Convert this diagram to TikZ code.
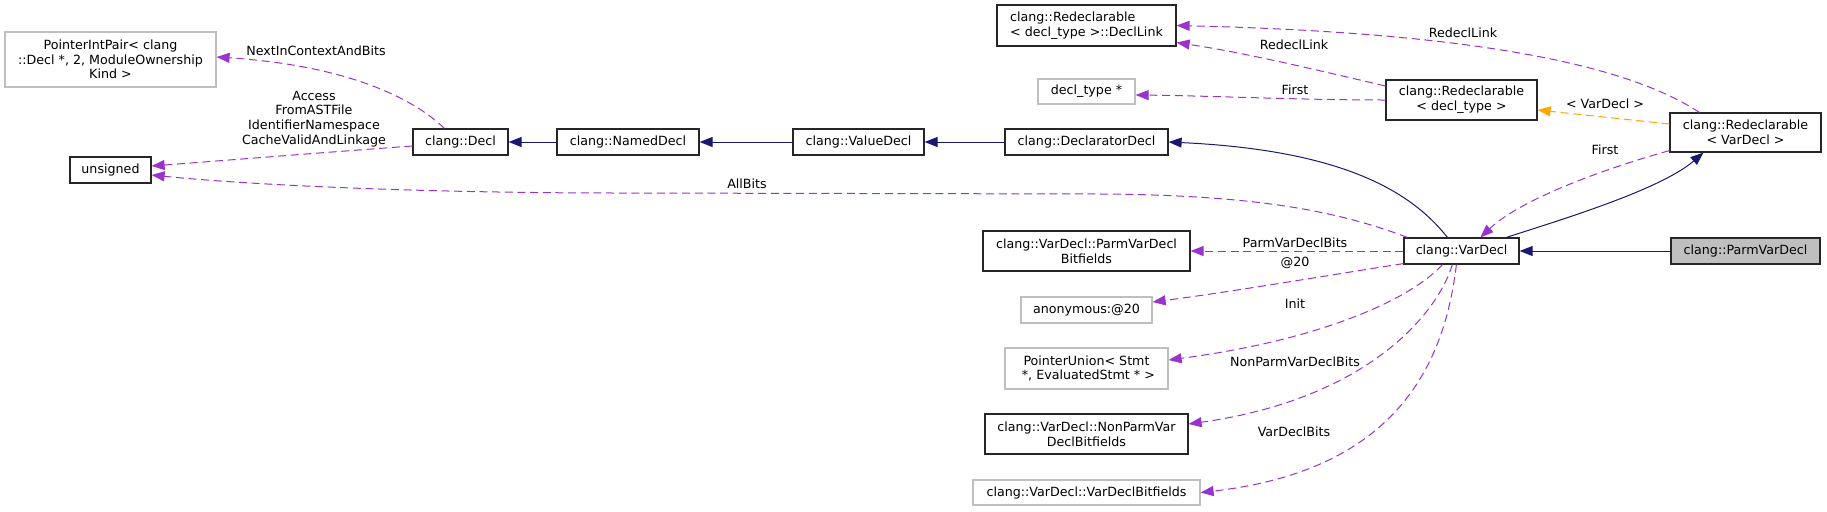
\documentclass[tikz,border=0pt]{standalone}
\usepackage{fontspec}
\setmainfont{DejaVu Sans}
\usetikzlibrary{arrows.meta,calc}
\definecolor{purp}{HTML}{9A32CD}
\definecolor{navy}{HTML}{191970}
\definecolor{orng}{HTML}{FFA500}
\definecolor{gry}{HTML}{BFBFBF}
\begin{document}
\begin{tikzpicture}[x=0.75pt,y=-0.75pt,
  every node/.style={font=\fontsize{9.5}{11}\selectfont, inner sep=0pt},
  sz/.style 2 args={minimum width={#1*0.75pt}, minimum height={#2*0.75pt}},
  bx/.style={draw=black!85, line width=0.9pt, fill=white, align=center},
  gbx/.style={draw=gry, line width=0.9pt, fill=white, align=center},
  lbl/.style={align=center},
  tip/.style={-{Triangle[length=9.75pt,width=7.5pt]}},
  use/.style={draw=purp, line width=0.75pt, dash pattern=on 6pt off 3.5pt, tip},
  tpl/.style={draw=orng, line width=0.75pt, dash pattern=on 6pt off 3.5pt, tip},
  inh/.style={draw=navy, line width=0.75pt, tip},
]
\useasboundingbox (0,0) rectangle (1827,511);

% nodes
\node[gbx,sz={211}{55}] (pii) at (110.5,59.5) {PointerIntPair< clang\\::Decl *, 2, ModuleOwnership\\Kind >};
\node[bx,sz={81}{26}] (un) at (110.5,170) {unsigned};
\node[bx,sz={95}{26}] (decl) at (460.5,142) {clang::Decl};
\node[bx,sz={142}{26}] (nd) at (628,142) {clang::NamedDecl};
\node[bx,sz={131}{26}] (vald) at (858.5,142) {clang::ValueDecl};
\node[bx,sz={163}{26}] (dd) at (1086.5,142) {clang::DeclaratorDecl};
\node[bx,sz={179}{41},align=left] (dl) at (1086.5,25.5) {clang::Redeclarable\\< decl\_type >::DeclLink};
\node[gbx,sz={97}{25}] (dt) at (1086.5,91.5) {decl\_type *};
\node[bx,sz={151}{40}] (rdt) at (1461.5,100) {clang::Redeclarable\\< decl\_type >};
\node[bx,sz={151}{39}] (rdv) at (1745.5,132.5) {clang::Redeclarable\\< VarDecl >};
\node[bx,sz={115}{26}] (var) at (1461.5,251) {clang::VarDecl};
\node[bx,sz={149}{26},fill=gry] (pvd) at (1745.5,251) {clang::ParmVarDecl};
\node[bx,sz={207}{40}] (pvdb) at (1086.5,251) {clang::VarDecl::ParmVarDecl\\Bitfields};
\node[gbx,sz={131}{26}] (anon) at (1086.5,310) {anonymous:@20};
\node[gbx,sz={163}{41}] (pu) at (1086.5,368.5) {PointerUnion< Stmt\\\hspace*{0.3em}*, EvaluatedStmt * >};
\node[bx,sz={203}{40}] (npvdb) at (1086.5,434) {clang::VarDecl::NonParmVar\\DeclBitfields};
\node[gbx,sz={227}{25}] (vdb) at (1086.5,492.5) {clang::VarDecl::VarDeclBitfields};

% inheritance
\draw[inh] (nd.west) -- (decl.east);
\draw[inh] (vald.west) -- (nd.east);
\draw[inh] (dd.west) -- (vald.east);
\draw[inh] ($(var.north west)+(44,0)$) .. controls (1410,190) and (1340,150) .. (dd.east);
\draw[inh] ($(var.north west)+(103,0)$) .. controls (1560,220) and (1660,190) .. ($(rdv.south west)+(34,0)$);
\draw[inh] (pvd.west) -- (var.east);

% template instantiation
\draw[tpl] ($(rdv.west)+(0,-8.5)$) -- ($(rdt.east)+(0,10)$);
\node[lbl] (l_tv) at (1605,104) {< VarDecl >};

% usage
\draw[use] ($(decl.west)+(0,4)$) .. controls (330,152) and (230,160) .. ($(un.east)+(0,-4)$);
\node[lbl] (l_acc) at (314,119) {Access\\FromASTFile\\IdentifierNamespace\\CacheValidAndLinkage};

\draw[use] ($(decl.north west)+(32,0)$) .. controls (410,95) and (340,65) .. ($(pii.east)+(0,-2.5)$);
\node[lbl] (l_next) at (316,51) {NextInContextAndBits};

\draw[use] ($(var.north west)+(4,0)$) .. controls (1340,212) and (1260,195) .. (1100,194) -- (620,193) .. controls (420,193) and (250,185) .. ($(un.east)+(0,5)$);
\node[lbl] (l_all) at (747,184) {AllBits};

\draw[use] ($(rdv.north west)+(30,0)$) .. controls (1620,60) and (1450,32) .. (dl.east);
\node[lbl] (l_rl1) at (1463,33) {RedeclLink};

\draw[use] ($(rdt.west)+(0,-14)$) .. controls (1300,66) and (1240,52) .. ($(dl.south east)+(0,-4)$);
\node[lbl] (l_rl2) at (1294,45) {RedeclLink};

\draw[use] (rdt.west) .. controls (1300,100) and (1220,96) .. ($(dt.east)+(0,3.5)$);
\node[lbl] (l_f1) at (1295,90) {First};

\draw[use] ($(rdv.south west)+(0,-2)$) .. controls (1600,170) and (1520,200) .. ($(var.north west)+(77,0)$);
\node[lbl] (l_f2) at (1605,150) {First};

\draw[use] (var.west) -- (pvdb.east);
\node[lbl] (l_pvb) at (1295,243) {ParmVarDeclBits};

\draw[use] ($(var.south west)+(0,-1)$) .. controls (1330,275) and (1230,292) .. ($(anon.east)+(0,-8)$);
\node[lbl] (l_at) at (1295,263) {@20};

\draw[use] ($(var.south west)+(39,0)$) .. controls (1410,300) and (1320,340) .. ($(pu.east)+(0,-8.5)$);
\node[lbl] (l_init) at (1295,304) {Init};

\draw[use] ($(var.south west)+(49,0)$) .. controls (1435,320) and (1360,400) .. ($(npvdb.east)+(0,-10)$);
\node[lbl] (l_np) at (1295,362) {NonParmVarDeclBits};

\draw[use] ($(var.south west)+(53,0)$) .. controls (1445,360) and (1400,470) .. (vdb.east);
\node[lbl] (l_vdb) at (1294,432) {VarDeclBits};
\end{tikzpicture}
\end{document}
